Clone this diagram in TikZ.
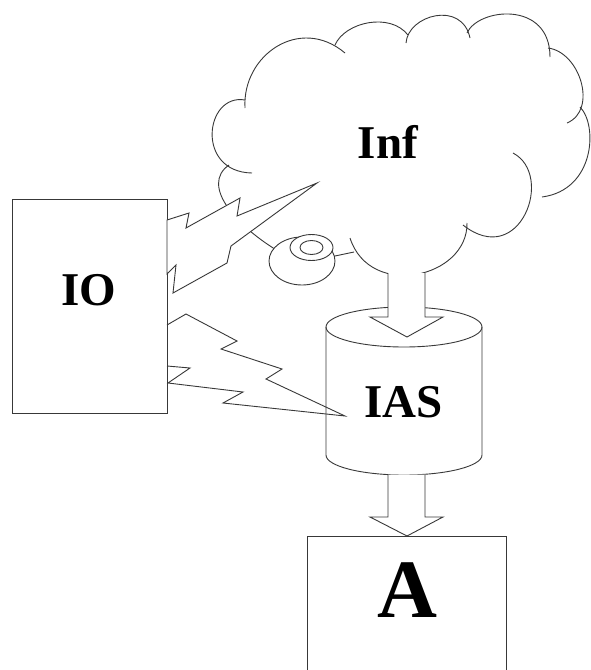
\documentclass[tikz,border=0pt]{standalone}
\usepackage{fontspec}
\setmainfont{Liberation Serif}
\begin{document}
\begin{tikzpicture}[x=1pt,y=-1pt,
  ln/.style={draw=black!78, line width=0.9pt, line join=miter},
  boxnode/.style={ln, fill=white, inner sep=0pt},
  lbl/.style={font=\bfseries\fontsize{47}{47}\selectfont, anchor=base, inner sep=0pt},
  biglbl/.style={font=\bfseries\fontsize{83}{83}\selectfont, anchor=base, inner sep=0pt}]
\useasboundingbox (0,0) rectangle (591,670);

% ---- cloud ----
\draw[ln] (245,100) .. controls (205,93) and (195,172) .. (252,173);   % left
\draw[ln] (245,108) .. controls (242,55) and (300,15) .. (345,53);     % 1
\draw[ln] (335,45) .. controls (345,22) and (390,12) .. (408,35);      % 2
\draw[ln] (406,43) .. controls (408,15) and (462,0) .. (470,38);       % 3
\draw[ln] (467,33) .. controls (478,8) and (550,0) .. (550,57);        % 4
\draw[ln] (548,48) .. controls (580,52) and (598,110) .. (567,123);    % 5
\draw[ln] (580,107) .. controls (598,125) and (595,190) .. (542,197);  % 6
\draw[ln] (513,153) .. controls (555,175) and (520,270) .. (463,225);  % 7
\draw[ln] (467,223) .. controls (468,278) and (370,300) .. (350,238);  % 8
\coordinate (cloudtail) at (354,252);
\draw[ln] (229,165) .. controls (200,185) and (235,228) .. (290,258) -- (335,256) -- (cloudtail); % 9
\node[lbl] (inf) at (388,158) {Inf};

% ---- small disc ----
\draw[ln, fill=white] (302,261) ellipse [x radius=33, y radius=24];
\draw[ln, fill=white] (311.5,247.5) ellipse [x radius=21.5, y radius=13];
\draw[ln] (311.5,247.5) ellipse [x radius=11.5, y radius=7];

% ---- IO box ----
\node[boxnode, minimum width=155pt, minimum height=214pt] (io) at (89.5,306) {};
\node[lbl] (iolbl) at (89,305) {IO};

% ---- lightning bolts ----
\draw[ln, fill=white] (167,220) -- (189,213) -- (186,228) -- (240,198) -- (237,216) -- (317,183)
  -- (231,246) -- (227,263) -- (173,293) -- (176,265) -- (167,274) -- cycle;
\draw[ln] (167,325) -- (186,314) -- (237,341) -- (221,349) -- (282,369) -- (266,379) -- (345,416)
  -- (223,403) -- (243,392) -- (168,383) -- (190,368) -- (167,366);

% ---- cylinder IAS ----
\coordinate (cylTL) at (326,327);
\coordinate (cylTR) at (482,327);
\draw[ln] (cylTL) -- (326,455) .. controls (326,466.05) and (360.9,475) .. (404,475)
  .. controls (447.1,475) and (482,466.05) .. (482,455) -- (cylTR);
\draw[ln] (404,327) ellipse [x radius=78, y radius=20];
\node[lbl] (ias) at (403.5,417) {IAS};

% ---- A box ----
\node[boxnode, minimum width=199pt, minimum height=142pt] (a) at (406.5,607) {};
\node[biglbl] (albl) at (407,617) {A};

% ---- block arrows ----
\draw[ln, fill=white] (388,273) -- (388,317) -- (370,317) -- (407,337) -- (443,317) -- (425,317) -- (425,273);
\draw[ln, fill=white] (388,474.5) -- (388,517) -- (370,517) -- (407,536) -- (443,517) -- (425,517) -- (425,474.5);
\end{tikzpicture}
\end{document}
